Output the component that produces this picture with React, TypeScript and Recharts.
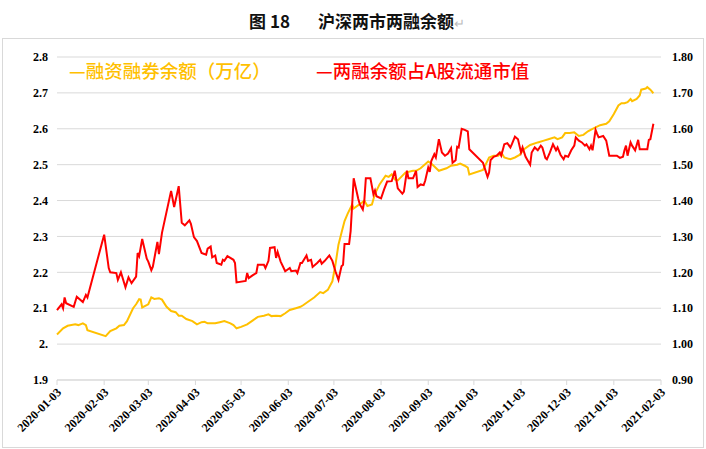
import { CartesianGrid, Legend, Line, LineChart, XAxis, YAxis } from "recharts";

// 融资融券余额 (left axis)
const marginDates = [
  "2020-01-03", "2020-01-07", "2020-01-10", "2020-01-15", "2020-01-17", "2020-01-20", "2020-01-22", "2020-01-23",
  "2020-02-04", "2020-02-07", "2020-02-11", "2020-02-13", "2020-02-16", "2020-02-18", "2020-02-22", "2020-02-24", "2020-02-26", "2020-02-27", "2020-02-28",
  "2020-03-03", "2020-03-05", "2020-03-07", "2020-03-10", "2020-03-12", "2020-03-15", "2020-03-18", "2020-03-21", "2020-03-23", "2020-03-25", "2020-03-28",
  "2020-04-01", "2020-04-04", "2020-04-07", "2020-04-09", "2020-04-11", "2020-04-16", "2020-04-19", "2020-04-22", "2020-04-26", "2020-04-28", "2020-04-30",
  "2020-05-03", "2020-05-07", "2020-05-11", "2020-05-14", "2020-05-18", "2020-05-21", "2020-05-23", "2020-05-26", "2020-05-29",
  "2020-06-01", "2020-06-04", "2020-06-08", "2020-06-11", "2020-06-13", "2020-06-16", "2020-06-20", "2020-06-24", "2020-06-26", "2020-06-29",
  "2020-07-02", "2020-07-04", "2020-07-06", "2020-07-08", "2020-07-10", "2020-07-12", "2020-07-15", "2020-07-16", "2020-07-19", "2020-07-20", "2020-07-23", "2020-07-25", "2020-07-28", "2020-07-30",
  "2020-08-02", "2020-08-06", "2020-08-08", "2020-08-10", "2020-08-12", "2020-08-14", "2020-08-19", "2020-08-24", "2020-08-26", "2020-08-29",
  "2020-09-03", "2020-09-05", "2020-09-10", "2020-09-15", "2020-09-18", "2020-09-22", "2020-09-24", "2020-09-27", "2020-09-29", "2020-09-30",
  "2020-10-09", "2020-10-13", "2020-10-16", "2020-10-19", "2020-10-21", "2020-10-23", "2020-10-27", "2020-10-30",
  "2020-11-02", "2020-11-05", "2020-11-09", "2020-11-14", "2020-11-18", "2020-11-21", "2020-11-25", "2020-11-27", "2020-11-30",
  "2020-12-02", "2020-12-05", "2020-12-08", "2020-12-11", "2020-12-14", "2020-12-17", "2020-12-20", "2020-12-23", "2020-12-25", "2020-12-27", "2020-12-29", "2020-12-31",
  "2021-01-03", "2021-01-06", "2021-01-08", "2021-01-10", "2021-01-12", "2021-01-14", "2021-01-15", "2021-01-18", "2021-01-20", "2021-01-21", "2021-01-24", "2021-01-25", "2021-01-27", "2021-01-29",
];
const marginValues = [
  2.027, 2.044, 2.051, 2.055, 2.053, 2.058, 2.053, 2.039,
  2.022, 2.036, 2.044, 2.051, 2.053, 2.064, 2.1, 2.111, 2.125, 2.124, 2.102,
  2.111, 2.13, 2.126, 2.128, 2.124, 2.104, 2.092, 2.089, 2.079, 2.079, 2.07,
  2.064, 2.055, 2.061, 2.062, 2.058, 2.058, 2.061, 2.064, 2.058, 2.053, 2.044,
  2.048, 2.055, 2.067, 2.076, 2.079, 2.083, 2.078, 2.079, 2.078,
  2.086, 2.095, 2.1, 2.104, 2.109, 2.118, 2.13, 2.145, 2.142, 2.151,
  2.175, 2.221, 2.277, 2.31, 2.343, 2.363, 2.389, 2.378, 2.387, 2.389, 2.4, 2.385, 2.389, 2.419,
  2.445, 2.469, 2.466, 2.473, 2.459, 2.456, 2.478, 2.483, 2.483, 2.49,
  2.509, 2.503, 2.483, 2.49, 2.497, 2.5, 2.503, 2.497, 2.492, 2.473,
  2.485, 2.52, 2.525, 2.525, 2.534, 2.52, 2.515, 2.52,
  2.527, 2.543, 2.555, 2.562, 2.567, 2.571, 2.576, 2.571, 2.576,
  2.588, 2.588, 2.59, 2.58, 2.583, 2.593, 2.6, 2.606, 2.61, 2.612, 2.614, 2.621,
  2.641, 2.665, 2.671, 2.671, 2.674, 2.683, 2.677, 2.683, 2.693, 2.709, 2.712, 2.716, 2.709, 2.699,
];

// 两融余额占A股流通市值 (right axis)
const ratioDates = [
  "2020-01-03", "2020-01-06", "2020-01-07", "2020-01-08", "2020-01-09", "2020-01-14", "2020-01-16", "2020-01-20", "2020-01-22", "2020-01-23",
  "2020-02-03", "2020-02-06", "2020-02-07", "2020-02-11", "2020-02-12", "2020-02-14", "2020-02-17", "2020-02-19", "2020-02-21", "2020-02-24", "2020-02-25", "2020-02-26", "2020-02-28",
  "2020-03-02", "2020-03-03", "2020-03-05", "2020-03-06", "2020-03-09", "2020-03-10", "2020-03-12", "2020-03-18", "2020-03-20", "2020-03-23", "2020-03-25", "2020-03-27", "2020-03-30", "2020-03-31",
  "2020-04-02", "2020-04-04", "2020-04-07", "2020-04-10", "2020-04-11", "2020-04-13", "2020-04-14", "2020-04-16", "2020-04-17", "2020-04-20", "2020-04-21", "2020-04-22", "2020-04-24", "2020-04-28", "2020-04-29", "2020-04-30",
  "2020-05-06", "2020-05-07", "2020-05-08", "2020-05-11", "2020-05-13", "2020-05-14", "2020-05-18", "2020-05-19", "2020-05-21", "2020-05-22", "2020-05-25", "2020-05-26", "2020-05-27", "2020-05-29",
  "2020-06-01", "2020-06-04", "2020-06-05", "2020-06-08", "2020-06-09", "2020-06-11", "2020-06-12", "2020-06-15", "2020-06-16", "2020-06-18", "2020-06-19", "2020-06-22", "2020-06-24", "2020-06-25", "2020-06-27", "2020-06-30",
  "2020-07-02", "2020-07-04", "2020-07-06", "2020-07-08", "2020-07-09", "2020-07-10", "2020-07-13", "2020-07-14", "2020-07-16", "2020-07-19", "2020-07-20", "2020-07-22", "2020-07-23", "2020-07-24", "2020-07-27", "2020-07-29", "2020-07-30", "2020-07-31",
  "2020-08-03", "2020-08-05", "2020-08-07", "2020-08-10", "2020-08-12", "2020-08-14", "2020-08-17", "2020-08-18", "2020-08-20", "2020-08-21", "2020-08-24", "2020-08-26", "2020-08-27", "2020-08-29", "2020-08-31",
  "2020-09-01", "2020-09-03", "2020-09-04", "2020-09-05", "2020-09-07", "2020-09-08", "2020-09-10", "2020-09-12", "2020-09-14", "2020-09-16", "2020-09-18", "2020-09-19", "2020-09-21", "2020-09-22", "2020-09-23", "2020-09-25", "2020-09-27", "2020-09-29", "2020-09-30",
  "2020-10-09", "2020-10-12", "2020-10-13", "2020-10-14", "2020-10-16", "2020-10-18", "2020-10-20", "2020-10-21", "2020-10-23", "2020-10-25", "2020-10-27", "2020-10-28", "2020-10-30",
  "2020-11-01", "2020-11-03", "2020-11-04", "2020-11-06", "2020-11-09", "2020-11-10", "2020-11-12", "2020-11-14", "2020-11-16", "2020-11-17", "2020-11-19", "2020-11-20", "2020-11-22", "2020-11-24", "2020-11-26", "2020-11-27", "2020-11-29",
  "2020-12-01", "2020-12-02", "2020-12-04", "2020-12-06", "2020-12-08", "2020-12-09", "2020-12-11", "2020-12-13", "2020-12-15", "2020-12-16", "2020-12-18", "2020-12-19", "2020-12-20", "2020-12-22", "2020-12-23", "2020-12-24", "2020-12-27", "2020-12-29", "2020-12-31",
  "2021-01-05", "2021-01-07", "2021-01-09", "2021-01-10", "2021-01-11", "2021-01-12", "2021-01-14", "2021-01-15", "2021-01-17", "2021-01-19", "2021-01-20", "2021-01-25", "2021-01-26", "2021-01-27", "2021-01-29",
];
const ratioValues = [
  1.095, 1.111, 1.1, 1.13, 1.114, 1.104, 1.132, 1.117, 1.137, 1.13,
  1.305, 1.212, 1.2, 1.198, 1.179, 1.2, 1.158, 1.186, 1.17, 1.188, 1.254, 1.245, 1.293,
  1.238, 1.23, 1.206, 1.216, 1.285, 1.251, 1.31, 1.427, 1.382, 1.44, 1.338, 1.331, 1.345, 1.335,
  1.298, 1.287, 1.254, 1.249, 1.266, 1.272, 1.242, 1.247, 1.226, 1.221, 1.235, 1.232, 1.245, 1.235, 1.226, 1.172,
  1.176, 1.198, 1.184, 1.193, 1.198, 1.221, 1.221, 1.212, 1.232, 1.268, 1.27, 1.24, 1.257, 1.23,
  1.203, 1.212, 1.203, 1.205, 1.198, 1.226, 1.226, 1.247, 1.232, 1.235, 1.215, 1.226, 1.235, 1.224, 1.232, 1.247,
  1.232, 1.203, 1.179, 1.217, 1.221, 1.279, 1.279, 1.315, 1.462, 1.405, 1.39, 1.375, 1.4, 1.462, 1.462, 1.417, 1.428, 1.412,
  1.406, 1.431, 1.453, 1.454, 1.483, 1.434, 1.419, 1.425, 1.483, 1.462, 1.462, 1.483, 1.438, 1.445, 1.443,
  1.455, 1.492, 1.48, 1.51, 1.529, 1.52, 1.571, 1.534, 1.525, 1.531, 1.546, 1.505, 1.512, 1.55, 1.548, 1.6, 1.597, 1.593, 1.543,
  1.505, 1.466, 1.478, 1.513, 1.522, 1.525, 1.534, 1.525, 1.557, 1.56, 1.548, 1.557, 1.578,
  1.571, 1.534, 1.548, 1.522, 1.5, 1.534, 1.548, 1.54, 1.553, 1.548, 1.519, 1.515, 1.534, 1.557, 1.54, 1.548, 1.527,
  1.515, 1.525, 1.522, 1.54, 1.553, 1.576, 1.567, 1.562, 1.553, 1.557, 1.543, 1.553, 1.54, 1.597, 1.586, 1.576, 1.58, 1.567, 1.525,
  1.525, 1.519, 1.522, 1.54, 1.553, 1.525, 1.562, 1.553, 1.54, 1.569, 1.543, 1.543, 1.569, 1.571, 1.614,
];

const seriesNames = ["融资融券余额（万亿）", "两融余额占A股流通市值"];
const xTickLabels = [
  "2020-01-03", "2020-02-03", "2020-03-03", "2020-04-03", "2020-05-03", "2020-06-03", "2020-07-03",
  "2020-08-03", "2020-09-03", "2020-10-03", "2020-11-03", "2020-12-03", "2021-01-03", "2021-02-03",
];
const leftTicks = [1.9, 2.0, 2.1, 2.2, 2.3, 2.4, 2.5, 2.6, 2.7, 2.8];
const rightTicks = [0.9, 1.0, 1.1, 1.2, 1.3, 1.4, 1.5, 1.6, 1.7, 1.8];

const SERIF = '"Liberation Serif", "Times New Roman", serif';
const CJK = '"Noto Sans CJK SC", "Noto Sans", sans-serif';
const GRID = "#d9d9d9";

const toTime = (d: string) => Date.UTC(+d.slice(0, 4), +d.slice(5, 7) - 1, +d.slice(8, 10));
const fmtDate = (t: number) => new Date(t).toISOString().slice(0, 10);

const marginData = marginDates.map((d, i) => ({ t: toTime(d), v: marginValues[i] }));
const ratioData = ratioDates.map((d, i) => ({ t: toTime(d), v: ratioValues[i] }));
const xTicks = xTickLabels.map(toTime);

function DateTick({ x, y, payload }: any) {
  return (
    <g transform={`translate(${x + 2},${y + 3})`}>
      <text
        x={0}
        y={0}
        dy="0.35em"
        textAnchor="end"
        transform="rotate(-45)"
        fontFamily={SERIF}
        fontSize={12}
        fontWeight="bold"
        fill="#000"
      >
        {fmtDate(payload.value)}
      </text>
    </g>
  );
}

// keep the legend in series order, and the red item where the reference puts it
function LegendRow({ payload }: any) {
  const items = seriesNames
    .map((n) => (payload ?? []).find((e: any) => e.value === n))
    .filter(Boolean);
  return (
    <div style={{ display: "flex", fontFamily: CJK, fontSize: 18.5, fontWeight: 500, lineHeight: "22px" }}>
      {items.map((e: any, i: number) => (
        <span key={e.value} style={{ color: e.color, width: i === 0 ? 247 : "auto", whiteSpace: "nowrap" }}>
          —{e.value}
        </span>
      ))}
    </div>
  );
}

export default function App() {
  return (
    <div style={{ position: "absolute", left: 0, top: 0, width: 706, height: 449, background: "#fff" }}>
      <div
        style={{
          position: "absolute",
          top: 10,
          left: 4,
          width: 706,
          textAlign: "center",
          fontFamily: CJK,
          fontWeight: "bold",
          fontSize: 17,
          lineHeight: "22px",
          color: "#111",
        }}
      >
        图 18<span style={{ display: "inline-block", width: 28 }} />沪深两市两融余额
        <span style={{ color: "#bbb", fontWeight: "normal", fontSize: 13 }}>↵</span>
      </div>
      <div
        style={{
          position: "absolute",
          left: 2,
          top: 38,
          width: 700,
          height: 408,
          border: `1px solid ${GRID}`,
        }}
      />
      <div style={{ position: "absolute", left: 0, top: 0 }}>
        <LineChart width={706} height={449} margin={{ top: 57, right: 0, bottom: 0, left: 0 }}>
          <CartesianGrid yAxisId="left" vertical={false} stroke={GRID} strokeWidth={1} />
          <XAxis
            dataKey="t"
            type="number"
            scale="time"
            domain={[xTicks[0], xTicks[xTicks.length - 1]]}
            ticks={xTicks}
            interval={0}
            height={69}
            tick={<DateTick />}
            tickSize={5}
            tickMargin={2}
            stroke={GRID}
            axisLine={{ stroke: GRID }}
            tickLine={{ stroke: GRID }}
            allowDuplicatedCategory={false}
          />
          <YAxis
            yAxisId="left"
            orientation="left"
            width={57}
            domain={[1.9, 2.8]}
            ticks={leftTicks}
            tickFormatter={(v: number) => (v === 2 ? "2." : v.toFixed(1))}
            axisLine={false}
            tickLine={false}
            tickSize={0}
            tickMargin={9}
            tick={{ fontFamily: SERIF, fontSize: 12, fontWeight: "bold", fill: "#000" }}
          />
          <YAxis
            yAxisId="right"
            orientation="right"
            width={45}
            domain={[0.9, 1.8]}
            ticks={rightTicks}
            tickFormatter={(v: number) => v.toFixed(2)}
            axisLine={false}
            tickLine={false}
            tickSize={0}
            tickMargin={11}
            tick={{ fontFamily: SERIF, fontSize: 12, fontWeight: "bold", fill: "#000", textAnchor: "start" }}
          />
          <Legend
            layout="horizontal"
            verticalAlign="middle"
            align="center"
            wrapperStyle={{ top: 59, left: 69, width: 530 }}
            content={<LegendRow />}
          />
          <Line
            yAxisId="left"
            data={marginData}
            dataKey="v"
            name={seriesNames[0]}
            type="linear"
            stroke="#ffc000"
            strokeWidth={2}
            dot={false}
            isAnimationActive={false}
          />
          <Line
            yAxisId="right"
            data={ratioData}
            dataKey="v"
            name={seriesNames[1]}
            type="linear"
            stroke="#ff0000"
            strokeWidth={2}
            dot={false}
            isAnimationActive={false}
          />
        </LineChart>
      </div>
    </div>
  );
}
